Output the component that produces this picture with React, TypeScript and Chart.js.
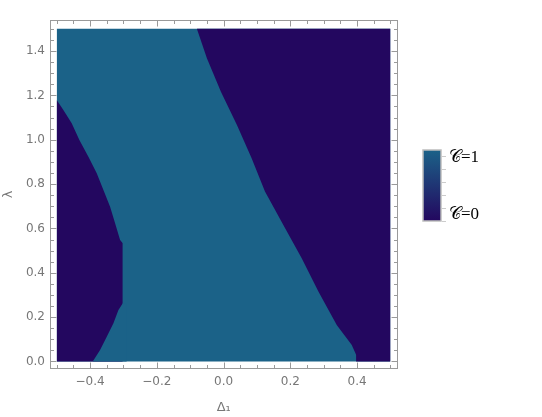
import React, { useEffect, useRef } from "react";
import { Chart, registerables } from "chart.js";

Chart.register(...registerables);

// ---- axis ticks ----
const xTickValues = [-0.4, -0.2, 0, 0.2, 0.4];
const yTickValues = [0, 0.2, 0.4, 0.6, 0.8, 1.0, 1.2, 1.4];

// ---- plotted region ----
const deltaRange = [-0.5, 0.5];
const lambdaRange = [0, 1.5];

// right edge of the C=1 band (lambda from top to bottom)
const rightLambda = [1.5, 1.367, 1.216, 1.066, 0.916, 0.766, 0.615, 0.465, 0.315, 0.165, 0.074, 0.03, 0];
const rightDelta = [-0.08, -0.05, -0.008, 0.04, 0.084, 0.124, 0.179, 0.234, 0.284, 0.339, 0.384, 0.397, 0.397];

// left C=0 pocket: upper edge (from the left wall down to the vertical part)
const leftUpperLambda = [1.179, 1.134, 1.074, 0.999, 0.923, 0.849, 0.773, 0.698, 0.623, 0.548, 0.533];
const leftUpperDelta = [-0.5, -0.48, -0.455, -0.432, -0.405, -0.38, -0.36, -0.34, -0.325, -0.31, -0.302];

// left C=0 pocket: lower edge (from the bottom up to the vertical part)
const leftLowerLambda = [0, 0.052, 0.112, 0.172, 0.232, 0.262];
const leftLowerDelta = [-0.392, -0.37, -0.35, -0.33, -0.315, -0.302];

const legendLabels = ["\u{1D49E}=1", "\u{1D49E}=0"];

const TEAL = "#1b6288";
const NAVY = "#23075f";
const FRAME = "#9a9a9a";
const LABEL = "#777777";

const fmt = (v: number) => {
  const s = Math.abs(v).toFixed(1);
  return v < -1e-9 ? "\u2212" + s : s;
};

const pts = (xs: number[], ys: number[]) => xs.map((x, i) => ({ x, y: ys[i] }));

const framePlugin = {
  id: "frameAndLegend",
  afterDatasetsDraw(chart: any) {
    const { ctx, chartArea: a, scales } = chart;
    const xs = scales.x;
    const ys = scales.y;
    ctx.save();
    ctx.strokeStyle = FRAME;
    ctx.lineWidth = 1;
    const L = Math.round(a.left) + 0.5;
    const R = Math.round(a.right) - 0.5;
    const T = Math.round(a.top) + 0.5;
    const B = Math.round(a.bottom) - 0.5;
    ctx.strokeRect(L, T, R - L, B - T);
    ctx.beginPath();
    for (let i = -10; i <= 10; i++) {
      const v = i * 0.05;
      const px = Math.round(xs.getPixelForValue(v)) + 0.5;
      const len = i % 4 === 0 ? 6 : 3.5;
      ctx.moveTo(px, B);
      ctx.lineTo(px, B - len);
      ctx.moveTo(px, T);
      ctx.lineTo(px, T + len);
    }
    for (let i = 0; i <= 30; i++) {
      const v = i * 0.05;
      const py = Math.round(ys.getPixelForValue(v)) + 0.5;
      const len = i % 4 === 0 ? 6 : 3.5;
      ctx.moveTo(L, py);
      ctx.lineTo(L + len, py);
      ctx.moveTo(R, py);
      ctx.lineTo(R - len, py);
    }
    ctx.stroke();
    ctx.restore();
  },
  afterDraw(chart: any) {
    const { ctx } = chart;
    ctx.save();
    // colour bar
    const bx = 423, by = 150, bw = 18, bh = 71;
    const g = ctx.createLinearGradient(0, by, 0, by + bh);
    g.addColorStop(0, TEAL);
    g.addColorStop(1, NAVY);
    ctx.fillStyle = g;
    ctx.fillRect(bx, by, bw, bh);
    ctx.strokeStyle = "#bdbdbd";
    ctx.lineWidth = 1.5;
    ctx.strokeRect(bx, by, bw, bh);
    ctx.strokeStyle = "#cccccc";
    ctx.lineWidth = 1;
    ctx.beginPath();
    for (let i = 0; i < 6; i++) {
      const y = Math.round(by + 6 + i * 13) + 0.5;
      ctx.moveTo(bx + bw + 1, y);
      ctx.lineTo(bx + bw + 5, y);
    }
    ctx.stroke();
    ctx.fillStyle = "#000";
    ctx.font = "17px 'Liberation Serif', 'DejaVu Serif', serif";
    ctx.textBaseline = "middle";
    ctx.textAlign = "left";
    ctx.fillText(legendLabels[0], 449, 158);
    ctx.fillText(legendLabels[1], 449, 215);
    ctx.restore();
  },
};

export default function App() {
  const ref = useRef<HTMLCanvasElement>(null);
  useEffect(() => {
    const base = {
      showLine: true,
      pointRadius: 0,
      borderWidth: 0,
      borderColor: "rgba(0,0,0,0)",
      tension: 0,
    };
    const nLow = leftLowerDelta.length - 1;
    const chart = new Chart(ref.current as HTMLCanvasElement, {
      type: "scatter",
      data: {
        datasets: [
          {
            ...base,
            label: "notch C=1",
            // the notch overlaps a little into the C=1 band so no seam shows
            data: [
              ...pts(leftLowerDelta, leftLowerLambda),
              { x: leftLowerDelta[nLow] + 0.012, y: leftLowerLambda[nLow] },
            ],
            backgroundColor: TEAL,
            fill: { value: lambdaRange[0] },
            order: 1,
          },
          {
            ...base,
            label: "left C=0",
            data: [
              ...pts(leftUpperDelta, leftUpperLambda),
              { x: leftUpperDelta[leftUpperDelta.length - 1], y: lambdaRange[0] },
            ],
            backgroundColor: NAVY,
            fill: { value: lambdaRange[0] },
            order: 2,
          },
          {
            ...base,
            label: "right C=0",
            data: [...pts(rightDelta, rightLambda), { x: deltaRange[1], y: lambdaRange[0] }],
            backgroundColor: NAVY,
            fill: { value: lambdaRange[1] },
            order: 3,
          },
          {
            ...base,
            label: "C=1",
            data: [
              { x: deltaRange[0], y: lambdaRange[1] },
              { x: deltaRange[1], y: lambdaRange[1] },
            ],
            backgroundColor: TEAL,
            fill: { value: lambdaRange[0] },
            order: 4,
          },
        ],
      } as any,
      options: {
        responsive: false,
        animation: false,
        devicePixelRatio: 1,
        layout: { padding: { top: 20, right: 144.5, left: 0, bottom: 0 } },
        plugins: {
          legend: { display: false },
          tooltip: { enabled: false },
        },
        scales: {
          x: {
            type: "linear",
            min: -0.52,
            max: 0.521,
            grid: { display: false, drawTicks: false },
            border: { display: false },
            afterBuildTicks: (s: any) => {
              s.ticks = xTickValues.map((v) => ({ value: v }));
            },
            afterFit: (s: any) => {
              s.height = 48;
            },
            ticks: {
              autoSkip: false,
              maxRotation: 0,
              padding: 6,
              color: LABEL,
              font: { family: "'DejaVu Sans', sans-serif", size: 12 },
              callback: (v: any) => fmt(Number(v)),
            },
            title: {
              display: true,
              text: "\u0394\u2081",
              color: LABEL,
              font: { family: "'DejaVu Sans', sans-serif", size: 13 },
              padding: { top: 0, bottom: 2 },
            },
          },
          y: {
            type: "linear",
            min: -0.034,
            max: 1.54,
            grid: { display: false, drawTicks: false },
            border: { display: false },
            afterBuildTicks: (s: any) => {
              s.ticks = yTickValues.map((v) => ({ value: v }));
            },
            afterFit: (s: any) => {
              s.width = 50;
            },
            ticks: {
              autoSkip: false,
              padding: 5,
              color: LABEL,
              font: { family: "'DejaVu Sans', sans-serif", size: 12 },
              callback: (v: any) => fmt(Number(v)),
            },
            title: {
              display: true,
              text: "\u03BB",
              color: LABEL,
              font: { family: "'DejaVu Sans', sans-serif", size: 13 },
              padding: { top: 1, bottom: 0 },
            },
          },
        },
      } as any,
      plugins: [framePlugin],
    });
    return () => chart.destroy();
  }, []);
  return (
    <div style={{ position: "fixed", left: 0, top: 0, width: 542, height: 417, background: "#fff" }}>
      <canvas ref={ref} width={542} height={417} style={{ display: "block" }} />
    </div>
  );
}
